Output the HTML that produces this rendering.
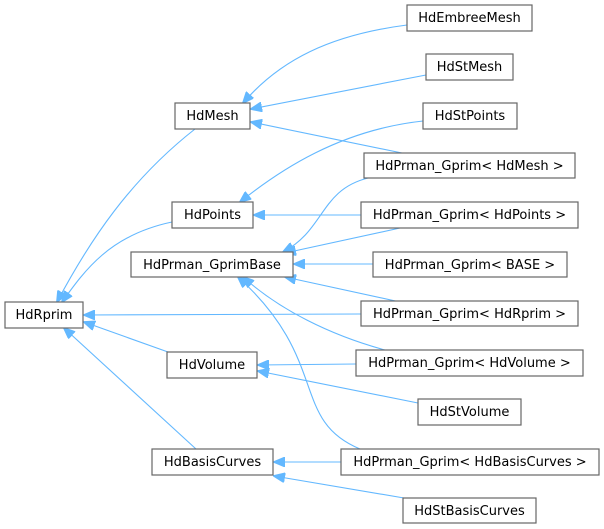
<!DOCTYPE html>
<html><head><meta charset="utf-8"><style>
html,body{margin:0;padding:0;background:#fff;}
svg{display:block}
text{font-family:"DejaVu Sans","Liberation Sans",sans-serif;font-size:13px;fill:#000;}
rect{fill:#fff;stroke:#666;stroke-width:1.2}
path{fill:none;stroke:#63b8ff;stroke-width:1.1}
</style></head><body>
<svg width="604" height="529" viewBox="0 0 604 529" xmlns="http://www.w3.org/2000/svg">
<defs>
<marker id="a" markerWidth="12" markerHeight="10" refX="11" refY="5" orient="auto" markerUnits="userSpaceOnUse">
<path d="M0,0 L12,5 L0,10 Z" style="fill:#63b8ff;stroke:#63b8ff;stroke-width:1"/>
</marker>
</defs>
<g marker-end="url(#a)">
<path d="M407,25 C330,35 280,60 243,103"/>
<path d="M426,75 L251,109"/>
<path d="M402,153 L251,122"/>
<path d="M423,121 C340,130 280,170 240,202"/>
<path d="M368,178 C320,190 325,230 283,252"/>
<path d="M361,215 L254,215"/>
<path d="M400,228 L285,253"/>
<path d="M373,264 L294,264"/>
<path d="M400,302 L285,277"/>
<path d="M361,314 L84,315"/>
<path d="M385,350 C330,335 280,310 243,277"/>
<path d="M356,364 L258,365"/>
<path d="M360,449 C290,420 330,360 238,277"/>
<path d="M195,129 C130,180 90,240 57,302"/>
<path d="M172,222 C110,235 85,270 62,302"/>
<path d="M168,352 L84,322"/>
<path d="M196,449 L64,328"/>
<path d="M418,403 L258,371"/>
<path d="M341,462 L274,462"/>
<path d="M404,498 L274,476"/>
</g>
<rect x="407" y="5" width="125" height="26"/><text x="469.5" y="22" text-anchor="middle">HdEmbreeMesh</text>
<rect x="426" y="54" width="87" height="26"/><text x="469.5" y="71" text-anchor="middle">HdStMesh</text>
<rect x="175" y="103" width="75" height="26"/><text x="212.5" y="120" text-anchor="middle">HdMesh</text>
<rect x="423" y="103" width="94" height="26"/><text x="470" y="120" text-anchor="middle">HdStPoints</text>
<rect x="364" y="153" width="211" height="25"/><text x="469.5" y="170" text-anchor="middle">HdPrman_Gprim&lt; HdMesh &gt;</text>
<rect x="172" y="202" width="81" height="26"/><text x="212.5" y="219" text-anchor="middle">HdPoints</text>
<rect x="361" y="202" width="217" height="26"/><text x="469.5" y="219" text-anchor="middle">HdPrman_Gprim&lt; HdPoints &gt;</text>
<rect x="131" y="252" width="162" height="25"/><text x="212" y="269" text-anchor="middle">HdPrman_GprimBase</text>
<rect x="373" y="252" width="194" height="25"/><text x="470" y="269" text-anchor="middle">HdPrman_Gprim&lt; BASE &gt;</text>
<rect x="5" y="302" width="78" height="26"/><text x="44" y="319" text-anchor="middle">HdRprim</text>
<rect x="361" y="301" width="217" height="25"/><text x="469.5" y="318" text-anchor="middle">HdPrman_Gprim&lt; HdRprim &gt;</text>
<rect x="167" y="352" width="90" height="26"/><text x="212" y="369" text-anchor="middle">HdVolume</text>
<rect x="356" y="350" width="227" height="26"/><text x="469.5" y="367" text-anchor="middle">HdPrman_Gprim&lt; HdVolume &gt;</text>
<rect x="418" y="399" width="103" height="26"/><text x="469.5" y="416" text-anchor="middle">HdStVolume</text>
<rect x="152" y="449" width="121" height="26"/><text x="212.5" y="466" text-anchor="middle">HdBasisCurves</text>
<rect x="341" y="449" width="258" height="26"/><text x="470" y="466" text-anchor="middle">HdPrman_Gprim&lt; HdBasisCurves &gt;</text>
<rect x="403" y="498" width="133" height="25"/><text x="469.5" y="515" text-anchor="middle">HdStBasisCurves</text>
</svg>
</body></html>
